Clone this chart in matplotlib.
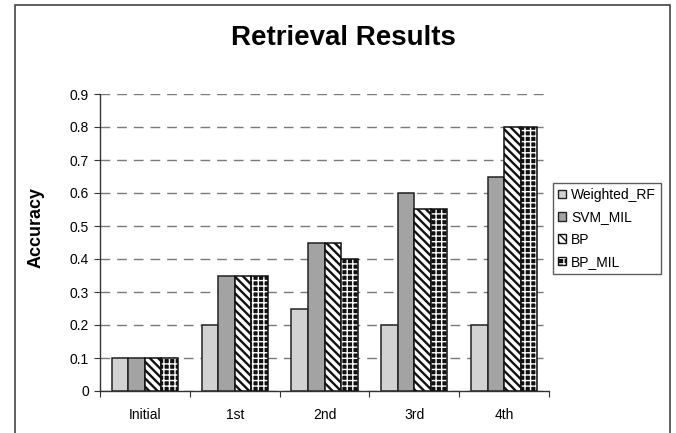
import numpy as np
import matplotlib as mpl
import matplotlib.pyplot as plt
from matplotlib.patches import Patch, Rectangle

plt.rcParams['font.family'] = ['Liberation Sans', 'DejaVu Sans']

# data
rounds = ['Initial', '1st', '2nd', '3rd', '4th']
weighted_rf = [0.1, 0.2, 0.25, 0.2, 0.2]
svm_mil = [0.1, 0.35, 0.45, 0.6, 0.65]
bp = [0.1, 0.35, 0.45, 0.55, 0.8]
bp_mil = [0.1, 0.35, 0.4, 0.55, 0.8]
yticks = [0, 0.1, 0.2, 0.3, 0.4, 0.5, 0.6, 0.7, 0.8, 0.9]

STRIPE_LW = 1.7   # diagonal stripes of BP
GRID_LW = 1.0     # white grid lines of BP_MIL

fig = plt.figure(figsize=(6.76, 4.33), dpi=100)
ax = fig.add_axes([100 / 676, 1 - 391 / 433, 449 / 676, 297 / 433])

x = np.arange(len(rounds))
w = 0.184
offs = [-1.5 * w, -0.5 * w, 0.5 * w, 1.5 * w]

ax.bar(x + offs[0], weighted_rf, w, color='#d2d2d2', edgecolor='#222222', linewidth=1.1, zorder=3)
ax.bar(x + offs[1], svm_mil, w, color='#a3a3a3', edgecolor='#222222', linewidth=1.1, zorder=3)
with mpl.rc_context({'hatch.linewidth': STRIPE_LW}):
    ax.bar(x + offs[2], bp, w, color='white', edgecolor='#111111', hatch='\\\\\\\\', linewidth=1.1, zorder=3)
# black bars with a white grid: hatch drawn in white, then a black outline on top
with mpl.rc_context({'hatch.linewidth': GRID_LW}):
    ax.bar(x + offs[3], bp_mil, w, color='#111111', edgecolor='white', hatch='+++', linewidth=0, zorder=3)
ax.bar(x + offs[3], bp_mil, w, fill=False, edgecolor='#111111', linewidth=1.1, zorder=4)

ax.set_xlim(-0.5, len(rounds) - 0.5)
ax.set_ylim(0, 0.9)
ax.set_yticks(yticks)
ax.set_yticklabels(['0' if v == 0 else f'{v:.1f}' for v in yticks], fontsize=10)

# tick marks between groups, labels at group centres
ax.set_xticks(np.arange(len(rounds) + 1) - 0.5)
ax.set_xticklabels([])
ax.set_xticks(x, minor=True)
ax.set_xticklabels(rounds, minor=True, fontsize=10)
ax.tick_params(axis='x', which='minor', length=0, pad=12)
ax.tick_params(axis='x', which='major', length=4, direction='out', color='#333333')
ax.tick_params(axis='y', length=4, direction='out', color='#333333', pad=4)

for s in ['top', 'right']:
    ax.spines[s].set_visible(False)
for s in ['left', 'bottom']:
    ax.spines[s].set_color('#333333')
    ax.spines[s].set_linewidth(1.0)

ax.yaxis.grid(True, color='#7a7a7a', linestyle=(0, (7, 5)), linewidth=1.0, zorder=0)
ax.set_axisbelow(True)

ax.set_ylabel('Accuracy', fontsize=13, fontweight='bold')
ax.yaxis.set_label_coords(-0.123, 0.55)
fig.text(343 / 676, 1 - 38 / 433, 'Retrieval Results', fontsize=20, fontweight='bold',
         ha='center', va='center')

with mpl.rc_context({'hatch.linewidth': STRIPE_LW}):
    h_bp = Patch(facecolor='white', edgecolor='#111111', hatch='\\\\\\\\')
with mpl.rc_context({'hatch.linewidth': GRID_LW}):
    h_grid = Patch(facecolor='#111111', edgecolor='white', hatch='+++', linewidth=0)
handles = [
    Patch(facecolor='#d2d2d2', edgecolor='#222222'),
    Patch(facecolor='#a3a3a3', edgecolor='#222222'),
    h_bp,
    (h_grid, Patch(fill=False, edgecolor='#111111')),
]
leg = fig.legend(handles, ['Weighted_RF', 'SVM_MIL', 'BP', 'BP_MIL'],
                 loc='upper left', bbox_to_anchor=(553 / 676, 1 - 183 / 433),
                 fontsize=10, frameon=True, fancybox=False, handlelength=0.6,
                 handleheight=0.6, handletextpad=0.35, labelspacing=0.6,
                 borderpad=0.35, borderaxespad=0)
leg.get_frame().set_edgecolor('#333333')
leg.get_frame().set_linewidth(1.0)

# outer chart frame
fig.patches.append(Rectangle((15 / 676, -0.02), 655 / 676, 1 - 5 / 433 + 0.02,
                             transform=fig.transFigure, fill=False,
                             edgecolor='#444444', linewidth=1.2))

fig.savefig('out.png', dpi=100)
